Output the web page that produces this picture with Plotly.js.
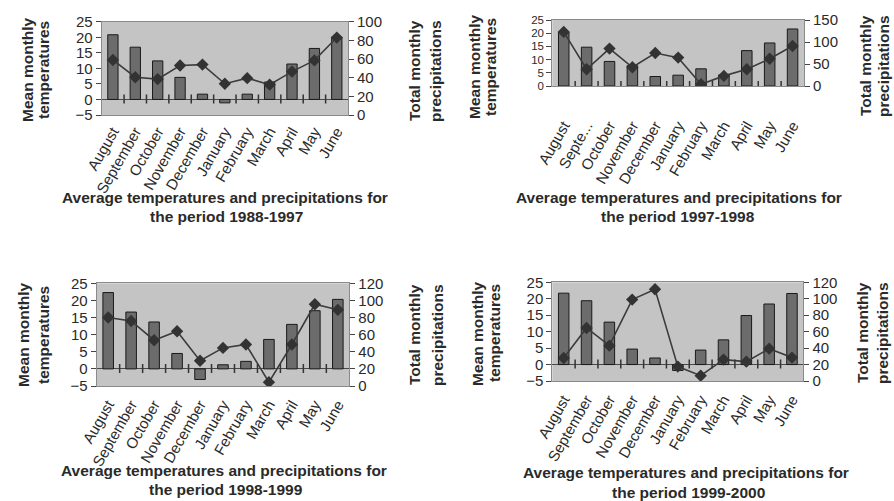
<!DOCTYPE html>
<html>
<head>
<meta charset="utf-8">
<script src="https://cdn.plot.ly/plotly-3.0.1.min.js"></script>
<style>html,body{margin:0;padding:0;background:#fff;}#chart{width:894px;height:501px;}</style>
</head>
<body>
<div id="chart"></div>
<script>
// ---- data ----
const months = ['August','September','October','November','December','January','February','March','April','May','June'];
const labels1 = ['August','September','October','November','December','January','February','March','April','May','June'];
const labels2 = ['August','Septe...','October','November','December','January','February','March','April','May','June'];
const labels3 = ['August','September','October','November','December','January','February','March','April','May','June'];
const labels4 = ['August','September','October','November','December','January','February','March','April','May','June'];

const temp1 = [20.8, 16.8, 12.4, 7.1, 1.7, -1.1, 1.7, 5.6, 11.4, 16.4, 20.0];
const prec1 = [59, 40.5, 38.5, 53, 54, 33.5, 39.5, 32.5, 46.5, 58.5, 83];
const temp2 = [20.4, 14.7, 9.3, 7.7, 3.6, 4.1, 6.5, 4.2, 13.4, 16.3, 21.6];
const prec2 = [123, 38, 85, 42.5, 75, 64.5, 4, 23, 38, 62, 91];
const temp3 = [22.3, 16.6, 13.7, 4.5, -3.1, 1.2, 2.2, 8.6, 13.0, 17.0, 20.3];
const prec3 = [80, 76, 53.5, 64, 29.5, 44.5, 48.5, 4.5, 48.5, 95.5, 89];
const temp4 = [21.7, 19.4, 12.9, 4.7, 2.0, -1.8, 4.4, 7.5, 14.9, 18.4, 21.6];
const prec4 = [28, 64.5, 43, 99, 111.5, 17.5, 6.5, 26, 23.5, 39.3, 28.5];

const titles1 = ['Average temperatures and precipitations for', 'the period 1988-1997'];
const titles2 = ['Average temperatures and precipitations for', 'the period 1997-1998'];
const titles3 = ['Average temperatures and precipitations for', 'the period 1998-1999'];
const titles4 = ['Average temperatures and precipitations for', 'the period 1999-2000'];
const leftTitle = ['Mean monthly', 'temperatures'];
const rightTitle = ['Total monthly', 'precipitations'];

// ---- layout helpers ----
const W = 894, H = 501;
const px = v => v / W;
const py = v => 1 - v / H;
const FONT = 'Liberation Sans, Arial, sans-serif';
const TXT = '#2a2a2a';

const panels = [
  {temp: temp1, prec: prec1, labels: labels1, titles: titles1,
   x0: 101.7, x1: 348, y0: 21.7, y1: 115, tRange: [-5, 25], pRange: [0, 100], pDtick: 20, standoff: 1, lFont: 15,
   lt: [27, 43, 70], rt: [415, 436, 71], tt: [[225.5, 197.5], [226.5, 216.5]]},
  {temp: temp2, prec: prec2, labels: labels2, titles: titles2,
   x0: 552.3, x1: 804, y0: 20, y1: 86, tRange: [0, 25], pRange: [0, 150], pDtick: 50, standoff: 24, lFont: 11.5,
   lt: [475, 491, 67], rt: [865, 883, 66], tt: [[678.7, 197.5], [678, 216.5]]},
  {temp: temp3, prec: prec3, labels: labels3, titles: titles3,
   x0: 96.7, x1: 349.3, y0: 283.3, y1: 386, tRange: [-5, 25], pRange: [0, 120], pDtick: 20, standoff: 3, lFont: 15,
   lt: [23, 43, 335], rt: [414, 437, 335], tt: [[224, 470], [225.8, 489.5]]},
  {temp: temp4, prec: prec4, labels: labels4, titles: titles4,
   x0: 552.3, x1: 803.4, y0: 282.3, y1: 381, tRange: [-5, 25], pRange: [0, 120], pDtick: 20, standoff: 3, lFont: 15,
   lt: [477, 494, 333], rt: [862, 882, 333], tt: [[686, 472], [688, 492]]}
];

const data = [];
const layout = {
  width: W, height: H,
  margin: {l: 0, r: 0, t: 0, b: 0, pad: 0},
  paper_bgcolor: '#ffffff',
  plot_bgcolor: '#c4c4c4',
  showlegend: false,
  bargap: 0.54,
  font: {family: FONT, color: TXT, size: 14},
  annotations: [],
  shapes: []
};

const axId = (letter, k) => k === 1 ? letter : letter + k;
const axName = (letter, k) => k === 1 ? letter + 'axis' : letter + 'axis' + k;

panels.forEach((p, i) => {
  const n = i + 1;
  const xa = axId('x', n);
  const yl = axId('y', 2 * n - 1), yr = axId('y', 2 * n);
  const xName = axName('x', n);
  const ylName = axName('y', 2 * n - 1);
  const yrName = axName('y', 2 * n);
  const xDom = [px(p.x0), px(p.x1)];
  const yDom = [py(p.y1), py(p.y0)];
  const catRange = [-0.5, months.length - 0.5];

  data.push({
    type: 'bar', x: months, y: p.temp, xaxis: xa, yaxis: yl,
    marker: {color: '#6c6c6c', line: {color: '#1a1a1a', width: 1}},
    hoverinfo: 'skip'
  });
  data.push({
    type: 'scatter', mode: 'lines+markers', x: months, y: p.prec, xaxis: xa, yaxis: yr,
    line: {color: '#3c3c3c', width: 1.6},
    marker: {symbol: 'diamond', size: 9.5, color: '#333333'},
    hoverinfo: 'skip'
  });

  layout[xName] = {
    domain: xDom, anchor: yl, type: 'category', range: catRange,
    tickmode: 'array', tickvals: months, ticktext: p.labels,
    tickangle: -60, ticks: '', showgrid: false, zeroline: false,
    showline: true, linecolor: '#8a8a8a', linewidth: 1, mirror: true,
    tickfont: {family: FONT, size: 15, color: TXT},
    ticklabelstandoff: p.standoff, automargin: false, fixedrange: true
  };
  layout[ylName] = {
    domain: yDom, anchor: xa, range: p.tRange, dtick: 5, tick0: 0,
    ticks: 'outside', ticklen: 5, tickcolor: '#444',
    showline: true, linecolor: '#8a8a8a', linewidth: 1,
    showgrid: false, zeroline: true, zerolinecolor: '#4a4a4a', zerolinewidth: 1,
    tickfont: {family: FONT, size: p.lFont, color: TXT}, automargin: false, fixedrange: true
  };
  layout[yrName] = {
    overlaying: yl, side: 'right', anchor: xa, range: p.pRange, dtick: p.pDtick, tick0: 0,
    ticks: 'outside', ticklen: 5, tickcolor: '#444',
    showline: true, linecolor: '#8a8a8a', linewidth: 1,
    showgrid: false, zeroline: false,
    tickfont: {family: FONT, size: 15, color: TXT}, automargin: false, fixedrange: true
  };

  // category-boundary ticks crossing the zero line (placed via the axes' own scales)
  for (let k = 0; k < months.length - 1; k++) {
    layout.shapes.push({
      type: 'line', xref: xa, yref: yl, layer: 'above',
      x0: k + 0.5, x1: k + 0.5,
      ysizemode: 'pixel', yanchor: 0, y0: -4, y1: 5,
      line: {color: '#333333', width: 1.5}
    });
  }

  // axis titles
  const at = (text, x, y) => ({
    text: text, xref: 'paper', yref: 'paper', x: px(x), y: py(y),
    xanchor: 'center', yanchor: 'middle', textangle: -90, showarrow: false,
    font: {family: FONT, size: 15.5, color: TXT}
  });
  layout.annotations.push(at('<b>' + leftTitle[0] + '</b>', p.lt[0], p.lt[2]));
  layout.annotations.push(at('<b>' + leftTitle[1] + '</b>', p.lt[1], p.lt[2]));
  layout.annotations.push(at('<b>' + rightTitle[0] + '</b>', p.rt[0], p.rt[2]));
  layout.annotations.push(at('<b>' + rightTitle[1] + '</b>', p.rt[1], p.rt[2]));
  p.titles.forEach((t, k) => {
    layout.annotations.push({
      text: '<b>' + t + '</b>', xref: 'paper', yref: 'paper',
      x: px(p.tt[k][0]), y: py(p.tt[k][1]), xanchor: 'center', yanchor: 'middle',
      showarrow: false, font: {family: FONT, size: 15.5, color: TXT}
    });
  });
});

Plotly.newPlot('chart', data, layout, {displayModeBar: false});
</script>
</body>
</html>
